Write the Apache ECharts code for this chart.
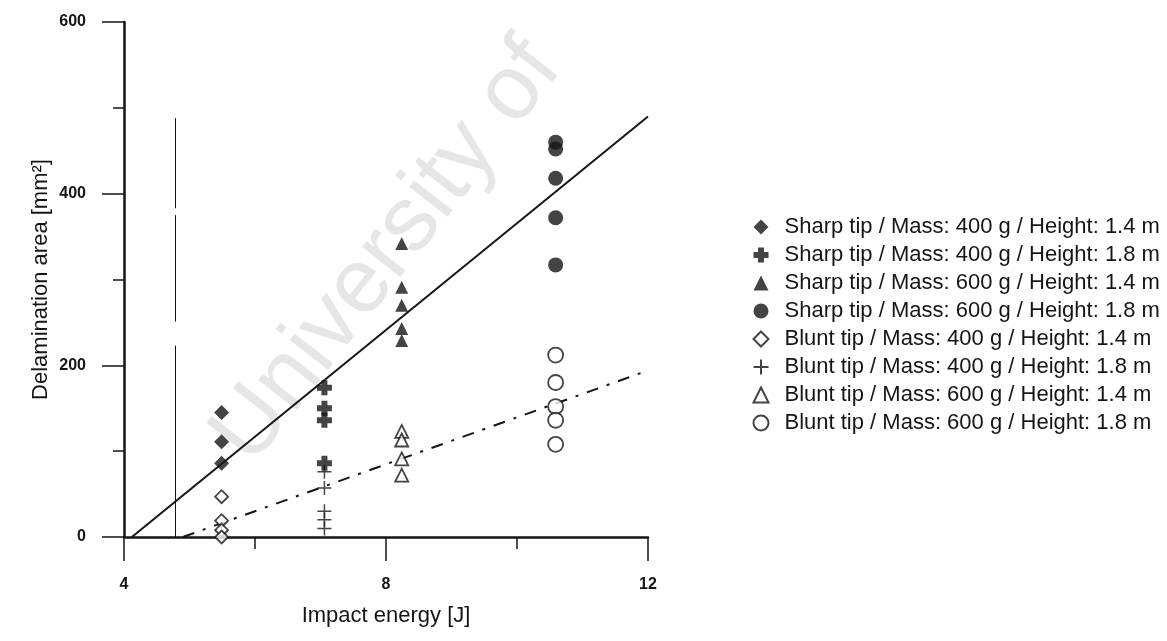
<!DOCTYPE html>
<html>
<head>
<meta charset="utf-8">
<script src="https://cdn.jsdelivr.net/npm/echarts@6/dist/echarts.min.js"></script>
<style>
  html, body { margin: 0; padding: 0; background: #fff; }
  #chart { width: 1167px; height: 641px; }
</style>
</head>
<body>
<div id="chart"></div>
<script>
// impact energies (J) of the four drop configurations
const energy400_14 = 5.49
const energy400_18 = 7.06
const energy600_14 = 8.24
const energy600_18 = 10.59

// delamination areas (mm²)
const sharp400_14 = [145, 111, 86]
const sharp400_18 = [174, 150, 136, 86]
const sharp600_14 = [342, 291, 270, 243, 229]
const sharp600_18 = [460, 452, 418, 372, 317]
const blunt400_14 = [47, 19, 8, 0]
const blunt400_18 = [76, 57, 30, 20, 10]
const blunt600_14 = [123, 113, 91, 72]
const blunt600_18 = [212, 180, 152, 136, 108]

// fitted lines (start / end points)
const sharpFit = [[4.12, 0], [12, 490]]
const bluntFit = [[4.9, 0], [12, 194]]

// vertical scan streak at x = 4.79
const streakX = 4.79
const streakSegs = [[488, 383], [375, 251], [223, 0]]

const xTicks = { min: 4, max: 12, interval: 4 }
const yTicks = { min: 0, max: 600, interval: 200 }

const ink = '#151515'
const font = 'Liberation Sans, Arial, sans-serif'

const pts = (x, ys) => ys.map(y => [x, y])

const crossPath = 'path://M3,0H7V3H10V7H7V10H3V7H0V3H3Z'
const plusPath = 'path://M0,5L10,5M5,0L5,10'

const filled = { color: ink }
const open = { color: '#fff', borderColor: ink, borderWidth: 1.8 }

const scatterDefs = [
  { name: 'Sharp tip / Mass: 400 g / Height: 1.4 m', data: pts(energy400_14, sharp400_14), symbol: 'diamond', symbolSize: 15, itemStyle: filled },
  { name: 'Sharp tip / Mass: 400 g / Height: 1.8 m', data: pts(energy400_18, sharp400_18), symbol: crossPath, symbolSize: 15, itemStyle: filled },
  { name: 'Sharp tip / Mass: 600 g / Height: 1.4 m', data: pts(energy600_14, sharp600_14), symbol: 'triangle', symbolSize: 13, itemStyle: filled },
  { name: 'Sharp tip / Mass: 600 g / Height: 1.8 m', data: pts(energy600_18, sharp600_18), symbol: 'circle', symbolSize: 15, itemStyle: filled },
  { name: 'Blunt tip / Mass: 400 g / Height: 1.4 m', data: pts(energy400_14, blunt400_14), symbol: 'diamond', symbolSize: 13, itemStyle: open },
  { name: 'Blunt tip / Mass: 400 g / Height: 1.8 m', data: pts(energy400_18, blunt400_18), symbol: plusPath, symbolSize: 14, itemStyle: { color: 'none', borderColor: ink, borderWidth: 1.5 } },
  { name: 'Blunt tip / Mass: 600 g / Height: 1.4 m', data: pts(energy600_14, blunt600_14), symbol: 'triangle', symbolSize: 13, itemStyle: open },
  { name: 'Blunt tip / Mass: 600 g / Height: 1.8 m', data: pts(energy600_18, blunt600_18), symbol: 'circle', symbolSize: 15, itemStyle: open }
]

const chart = echarts.init(document.getElementById('chart'))

const option = {
  backgroundColor: '#fff',
  animation: false,
  textStyle: { fontFamily: font, color: ink },
  // faint watermark from the scanned page
  graphic: [{
    type: 'text',
    x: 268, y: 480,
    rotation: 52 * Math.PI / 180,
    z: -10,
    silent: true,
    style: {
      text: 'University of',
      font: '92px ' + font,
      fill: '#e6e6e6',
      textAlign: 'left',
      textVerticalAlign: 'bottom'
    }
  }],
  grid: { left: 124, right: 519, top: 22, bottom: 104, containLabel: false },
  legend: {
    orient: 'vertical',
    left: 746,
    top: 211,
    itemWidth: 15,
    itemHeight: 15,
    itemGap: 6,
    data: scatterDefs.map(s => s.name),
    textStyle: { fontSize: 22, color: ink, fontFamily: font, padding: [0, 0, 0, 11] }
  },
  xAxis: {
    type: 'value',
    min: xTicks.min, max: xTicks.max, interval: xTicks.interval,
    name: 'Impact energy [J]',
    nameLocation: 'middle',
    nameGap: 68,
    nameTextStyle: { fontSize: 22, color: ink },
    axisLine: { lineStyle: { color: ink, width: 2.5 } },
    axisTick: { show: true, inside: false, length: 24, lineStyle: { color: ink, width: 1.5 } },
    minorTick: { show: true, splitNumber: 2, length: 12, lineStyle: { color: ink, width: 1.5 } },
    axisLabel: { margin: 40, fontSize: 16, fontWeight: 'bold', color: ink },
    splitLine: { show: false }
  },
  yAxis: {
    type: 'value',
    min: yTicks.min, max: yTicks.max, interval: yTicks.interval,
    name: 'Delamination area [mm²]',
    nameLocation: 'middle',
    nameGap: 72,
    nameTextStyle: { fontSize: 22, color: ink },
    axisLine: { lineStyle: { color: ink, width: 2.5 } },
    axisTick: { show: true, inside: false, length: 22, lineStyle: { color: ink, width: 1.5 } },
    minorTick: { show: true, splitNumber: 2, length: 11, lineStyle: { color: ink, width: 1.5 } },
    axisLabel: { margin: 38, fontSize: 16, fontWeight: 'bold', color: ink },
    splitLine: { show: false }
  },
  series: [
    {
      type: 'line',
      name: 'sharp fit',
      data: sharpFit,
      symbol: 'none',
      lineStyle: { color: ink, width: 2 },
      markLine: {
        silent: true,
        symbol: 'none',
        label: { show: false },
        lineStyle: { color: ink, width: 1, type: 'solid' },
        data: streakSegs.map(s => [{ coord: [streakX, s[0]] }, { coord: [streakX, s[1]] }])
      }
    },
    {
      type: 'line',
      name: 'blunt fit',
      data: bluntFit,
      symbol: 'none',
      lineStyle: { color: ink, width: 2, type: [12, 9, 3, 9] }
    },
    ...scatterDefs.map(s => ({ type: 'scatter', z: 3, ...s }))
  ]
}

chart.setOption(option)
</script>
</body>
</html>
